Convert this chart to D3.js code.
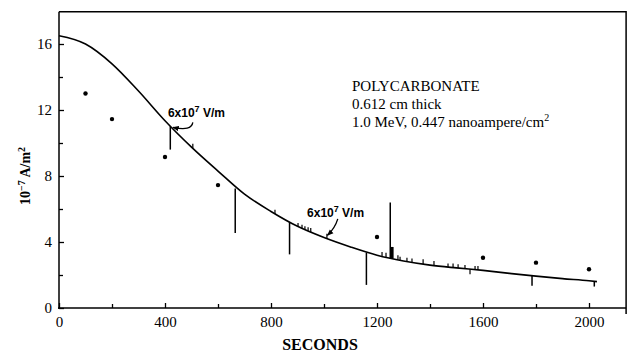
<!DOCTYPE html>
<html>
<head>
<meta charset="utf-8">
<script src="https://cdn.jsdelivr.net/npm/d3@7"></script>
<style>
  body { margin: 0; background: #fff; }
  svg { display: block; }
</style>
</head>
<body>
<div id="chart"></div>
<script>
// smooth fitted curve
const curveSec = [0,100,200,300,400,500,600,700,800,900,1000,1100,1200,1300,1400,1500,1600,1700,1800,1900,2000,2030];
const curveVal = [16.5,16.0,14.8,13.15,11.35,9.75,8.3,6.9,5.85,4.95,4.27,3.7,3.2,2.85,2.6,2.43,2.28,2.1,1.93,1.78,1.65,1.6];

// measured points
const dotSec = [100,200,400,600,1200,1600,1800,2000];
const dotVal = [13.0,11.45,9.15,7.45,4.3,3.05,2.75,2.35];

// discharge spikes (from curve to end value)
const spikeSec  = [420, 665, 870, 1160, 1250, 1785, 2020];
const spikeFrom = [11.0, 7.25, 5.2, 3.35, 3.0, 1.95, 1.62];
const spikeTo   = [9.6, 4.55, 3.25, 1.4, 6.4, 1.35, 1.3];

// small pulses along the curve
const tickSec  = [505,815,902,917,928,940,950,1011,1219,1234,1257,1279,1287,1313,1332,1374,1415,1468,1487,1506,1532,1551,1570,1581];
const tickBase = [9.7,5.7,4.93,4.83,4.75,4.68,4.61,4.2,3.13,3.08,3.0,2.92,2.89,2.82,2.77,2.66,2.57,2.48,2.45,2.42,2.38,2.35,2.32,2.3];
const tickTop  = [9.95,5.95,5.15,5.05,4.95,4.9,4.85,4.5,3.4,3.35,3.7,3.2,3.1,3.05,3.0,2.95,2.85,2.7,2.7,2.65,2.6,2.05,2.55,2.55];

const xTicks = [0,400,800,1200,1600,2000];
const xMinor = [200,600,1000,1400,1800];
const yTicks = [0,4,8,12,16];
const yMinor = [2,6,10,14];

const W = 629, H = 353;
const svg = d3.select("#chart").append("svg").attr("width", W).attr("height", H);

const x = d3.scaleLinear().domain([0, 2000]).range([59, 589]);
const y = d3.scaleLinear().domain([0, 16]).range([308, 44]);
const xMax = 2140, yMax = 17.95;

const serif = "Liberation Serif, Times New Roman, serif";

// frame
svg.append("path")
  .attr("d", "M" + x(0) + "," + y(yMax) + "H" + x(xMax) + "V" + (y(0) + 6))
  .attr("fill", "none").attr("stroke", "#000").attr("stroke-width", 1.5);

const xAxis = svg.append("g")
  .attr("transform", "translate(0," + y(0) + ")")
  .call(d3.axisBottom(x).tickValues(xTicks).tickSize(-5).tickPadding(8).tickFormat(d3.format("d")));
xAxis.select(".domain").attr("d", "M" + (x(0) - 1) + ",0H" + x(xMax)).attr("stroke-width", 1.5);
xAxis.attr("font-family", serif).attr("font-size", 15);

svg.append("g")
  .attr("transform", "translate(0," + y(0) + ")")
  .call(d3.axisBottom(x).tickValues(xMinor).tickSize(-4).tickFormat(""))
  .select(".domain").remove();

const yAxis = svg.append("g")
  .attr("transform", "translate(" + x(0) + ",0)")
  .call(d3.axisLeft(y).tickValues(yTicks).tickSize(-5).tickPadding(7));
yAxis.select(".domain").attr("d", "M0," + y(yMax) + "V" + (y(0) + 1)).attr("stroke-width", 1.5);
yAxis.attr("font-family", serif).attr("font-size", 15);

svg.append("g")
  .attr("transform", "translate(" + x(0) + ",0)")
  .call(d3.axisLeft(y).tickValues(yMinor).tickSize(-4).tickFormat(""))
  .select(".domain").remove();

svg.selectAll(".tick line").attr("stroke-width", 1.3);
svg.selectAll(".tick text").attr("fill", "#000");

// curve
const line = d3.line()
  .x(function(d, i) { return x(curveSec[i]); })
  .y(function(d) { return y(d); })
  .curve(d3.curveMonotoneX);

svg.append("path")
  .datum(curveVal)
  .attr("d", line)
  .attr("fill", "none").attr("stroke", "#000").attr("stroke-width", 1.6);

// spikes
svg.selectAll("line.spike")
  .data(spikeSec)
  .enter().append("line")
  .classed("spike", true)
  .attr("x1", function(d) { return x(d); })
  .attr("x2", function(d) { return x(d); })
  .attr("y1", function(d, i) { return y(spikeFrom[i]); })
  .attr("y2", function(d, i) { return y(spikeTo[i]); })
  .attr("stroke", "#000").attr("stroke-width", 1.5);

svg.selectAll("line.pulse")
  .data(tickSec)
  .enter().append("line")
  .classed("pulse", true)
  .attr("x1", function(d) { return x(d); })
  .attr("x2", function(d) { return x(d); })
  .attr("y1", function(d, i) { return y(tickBase[i]); })
  .attr("y2", function(d, i) { return y(tickTop[i]); })
  .attr("stroke", "#000")
  .attr("stroke-width", function(d) { return d === 1257 ? 3 : 1.2; });

// dots
svg.selectAll("circle.dot")
  .data(dotSec)
  .enter().append("circle")
  .classed("dot", true)
  .attr("cx", function(d) { return x(d); })
  .attr("cy", function(d, i) { return y(dotVal[i]); })
  .attr("r", 2.2)
  .attr("fill", "#000");

// field annotations
svg.append("defs").append("marker")
  .attr("id", "head")
  .attr("viewBox", "0 0 10 10")
  .attr("refX", 9).attr("refY", 5)
  .attr("markerWidth", 5).attr("markerHeight", 5)
  .attr("orient", "auto")
  .append("path").attr("d", "M0,1L10,5L0,9Z").attr("fill", "#000");

const notes = [
  { tx: 411, ty: 11.6, a: [505, 11.25], c: [500, 10.7], b: [430, 10.95] },
  { tx: 936, ty: 5.5, a: [1052, 5.4], c: [1042, 4.85], b: [1013, 4.4] }
];

notes.forEach(function(n) {
  const t = svg.append("text")
    .attr("x", x(n.tx)).attr("y", y(n.ty))
    .style("font-family", "Liberation Sans, Arial, sans-serif")
    .style("font-size", "12px").style("font-weight", "bold");
  t.append("tspan").text("6x10");
  t.append("tspan").attr("dy", -5).style("font-size", "9px").text("7");
  t.append("tspan").attr("dy", 5).text(" V/m");

  svg.append("path")
    .attr("d", "M" + x(n.a[0]) + "," + y(n.a[1]) + "Q" + x(n.c[0]) + "," + y(n.c[1]) + " " + x(n.b[0]) + "," + y(n.b[1]))
    .attr("fill", "none").attr("stroke", "#000").attr("stroke-width", 1.3)
    .attr("marker-end", "url(#head)");
});

// sample description
const info = svg.append("text")
  .style("font-family", serif).style("font-size", "15px").attr("fill", "#000");
info.append("tspan").attr("x", 352).attr("y", 91).text("POLYCARBONATE");
info.append("tspan").attr("x", 352).attr("y", 109).text("0.612 cm thick");
info.append("tspan").attr("x", 352).attr("y", 127).text("1.0 MeV, 0.447 nanoampere/cm");
info.append("tspan").attr("dy", -6).style("font-size", "10px").text("2");

// axis titles
svg.append("text")
  .attr("x", 320).attr("y", 350)
  .attr("text-anchor", "middle")
  .style("font-family", serif).style("font-size", "16px").style("font-weight", "bold")
  .text("SECONDS");

const yl = svg.append("text")
  .attr("transform", "translate(30,176) rotate(-90)")
  .attr("text-anchor", "middle")
  .style("font-family", serif).style("font-size", "14px").style("font-weight", "bold");
yl.append("tspan").text("10");
yl.append("tspan").attr("dy", -5).style("font-size", "10px").text("\u22127");
yl.append("tspan").attr("dy", 5).text(" A/m");
yl.append("tspan").attr("dy", -5).style("font-size", "10px").text("2");
</script>
</body>
</html>
